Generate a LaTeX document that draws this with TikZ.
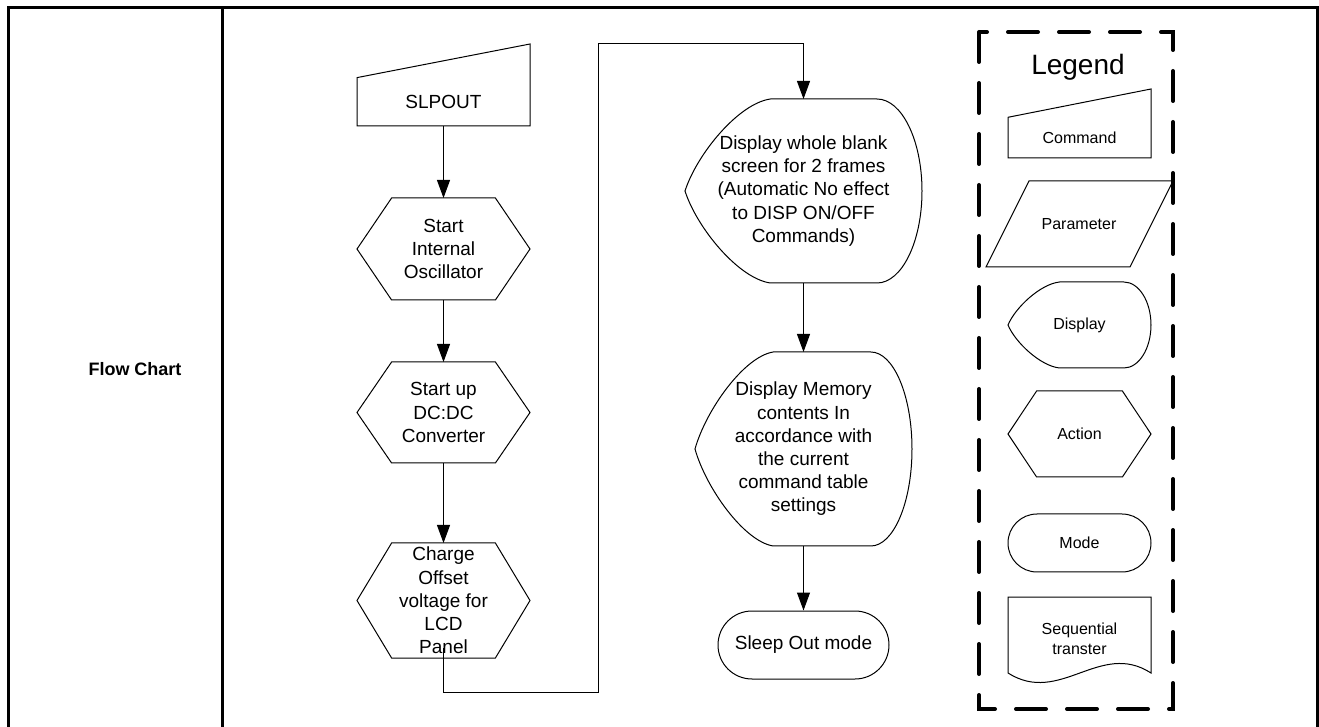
\documentclass[tikz,border=0pt]{standalone}
\usepackage{fontspec}
\setmainfont{Liberation Sans}
\usetikzlibrary{arrows.meta}
\tikzset{
  shapeline/.style={draw, line width=0.5pt},
  flowtext/.style={align=center, font=\fontsize{9.5}{11.6}\selectfont, inner sep=0pt},
  legtext/.style={align=center, font=\fontsize{8}{9.8}\selectfont, inner sep=0pt},
  signal/.style={-{Triangle[length=9pt, width=6.5pt]}, line width=0.5pt, black},
  tableline/.style={line width=1.5pt},
  legendframe/.style={line width=2pt, dash pattern=on 15pt off 10.5pt, line cap=round}
}
% x, y, name, half width, half height, text style, text
\newcommand{\drawcmd}[7]{
  \draw[shapeline] (#1-#4, #2-0.18*#5) -- (#1+#4, #2-#5) -- (#1+#4, #2+#5) -- (#1-#4, #2+#5) -- cycle;
  \node[#6] (#3) at (#1, #2+0.41*#5) {#7};
  \coordinate (#3_s) at (#1, #2+#5);
}
\newcommand{\drawhex}[7]{
  \draw[shapeline] (#1-#4, #2) -- (#1-0.6*#4, #2-#5) -- (#1+0.6*#4, #2-#5) -- (#1+#4, #2) -- (#1+0.6*#4, #2+#5) -- (#1-0.6*#4, #2+#5) -- cycle;
  \node[#6] (#3) at (#1, #2) {#7};
  \coordinate (#3_n) at (#1, #2-#5);
  \coordinate (#3_s) at (#1, #2+#5);
}
\newcommand{\drawdisplay}[7]{
  \draw[shapeline] (#1-0.28*#4, #2-#5) -- (#1+0.62*#4, #2-#5)
    .. controls (#1+0.83*#4, #2-#5) and (#1+#4, #2-0.55*#5) .. (#1+#4, #2)
    .. controls (#1+#4, #2+0.55*#5) and (#1+0.83*#4, #2+#5) .. (#1+0.62*#4, #2+#5)
    -- (#1-0.28*#4, #2+#5)
    .. controls (#1-0.55*#4, #2+0.95*#5) and (#1-0.9*#4, #2+0.4*#5) .. (#1-#4, #2)
    .. controls (#1-0.9*#4, #2-0.4*#5) and (#1-0.55*#4, #2-0.95*#5) .. (#1-0.28*#4, #2-#5) -- cycle;
  \node[#6] (#3) at (#1, #2) {#7};
  \coordinate (#3_n) at (#1, #2-#5);
  \coordinate (#3_s) at (#1, #2+#5);
}

\begin{document}
\begin{tikzpicture}[x=0.5pt, y=-0.5pt]
\useasboundingbox (0,0) rectangle (1319,727);

% Table frame
\draw[tableline] (8,727) -- (8,8) -- (1317,8) -- (1317,727);
\draw[tableline] (222,8) -- (222,727);
\node[font=\bfseries\fontsize{9}{11}\selectfont] (rowlabel) at (135,369) {Flow Chart};

% Left column
\drawcmd{443.5}{85}{slpout}{86.5}{41}{flowtext}{SLPOUT}
\drawhex{443.5}{249}{osc}{86.5}{51}{flowtext}{Start\\Internal\\Oscillator}
\drawhex{443.5}{412.5}{dcdc}{86.5}{50.5}{flowtext}{Start up\\DC:DC\\Converter}
\drawhex{443.5}{600.5}{charge}{86.5}{57.5}{flowtext}{Charge\\Offset\\voltage for\\LCD\\Panel}

% Right column
\drawdisplay{803.5}{191}{blank}{118.5}{92}{flowtext}{Display whole blank\\screen for 2 frames\\(Automatic No effect\\to DISP ON/OFF\\Commands)}
\drawdisplay{803.5}{449}{memory}{108.5}{97}{flowtext}{Display Memory\\contents In\\accordance with\\the current\\command table\\settings}
\node[shapeline, flowtext, minimum width=85.5pt, minimum height=34pt, rounded corners=17pt] (sleep) at (803.5,645) {Sleep Out mode};

% Connectors
\coordinate (loopbottom) at (598,692);
\coordinate (looptop) at (598,44);
\draw[signal] (slpout_s) -- (osc_n);
\draw[signal] (osc_s) -- (dcdc_n);
\draw[signal] (dcdc_s) -- (charge_n);
\draw[signal] (charge_s) ++(0,-10) |- (loopbottom) -- (looptop) -| (blank_n);
\draw[signal] (blank_s) -- (memory_n);
\draw[signal] (memory_s) -- (sleep);

% Legend
\draw[legendframe] (979,32) rectangle (1173,709);
\node[font=\fontsize{14}{16}\selectfont] (legendtitle) at (1078,67) {Legend};
\drawcmd{1079.5}{123.5}{lgcmd}{71.5}{34.5}{legtext}{Command}
\draw[shapeline] (1029,181) -- (1173,181) -- (1130,267) -- (986,267) -- cycle;
\node[legtext] (lgparam) at (1079,224) {Parameter};
\drawdisplay{1079.5}{325}{lgdisp}{71.5}{43}{legtext}{Display}
\drawhex{1079.5}{434}{lgaction}{71.5}{43}{legtext}{Action}
\node[shapeline, legtext, minimum width=71.5pt, minimum height=29pt, rounded corners=14.5pt] (lgmode) at (1079.5,543) {Mode};
\draw[shapeline] (1008,673) -- (1008,597) -- (1151,597) -- (1151,673) .. controls (1100,640) and (1060,706) .. (1008,673) -- cycle;
\node[legtext] (lgseq) at (1079.5,639) {Sequential\\transter};

\end{tikzpicture}
\end{document}
